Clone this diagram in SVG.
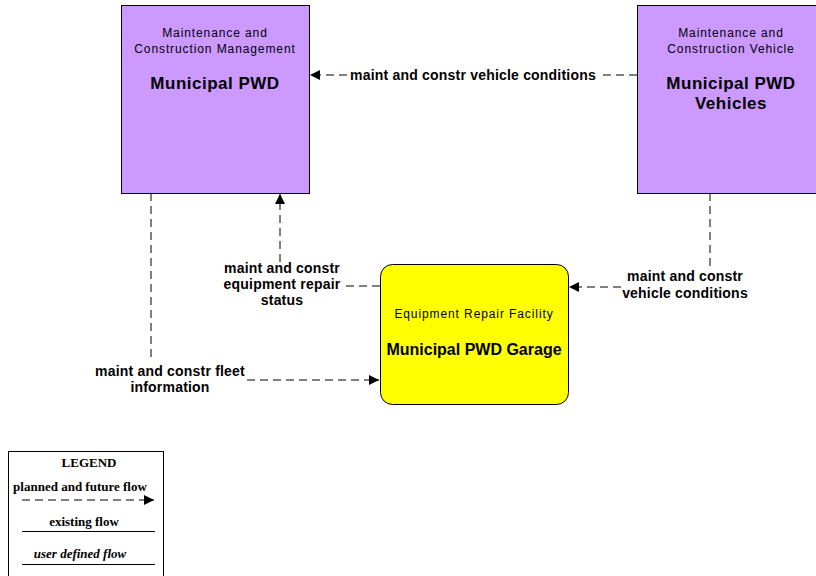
<svg xmlns="http://www.w3.org/2000/svg" width="816" height="576" viewBox="0 0 816 576">
<defs>
<marker id="ah" viewBox="0 0 10 10" refX="10" refY="5" markerWidth="10" markerHeight="10" markerUnits="userSpaceOnUse" orient="auto">
<path d="M0,0 L10,5 L0,10 Z" fill="#000"/>
</marker>
</defs>
<style>
.box{fill:#CC99FF;stroke:#000;stroke-width:1}
.yel{fill:#FFFF00;stroke:#000;stroke-width:1}
.sub{font-family:"Liberation Sans",Arial,sans-serif;font-size:12px;letter-spacing:0.9px;fill:#000;text-anchor:middle}
.ttl{font-family:"Liberation Sans",Arial,sans-serif;font-size:17px;letter-spacing:0.5px;font-weight:bold;fill:#000;text-anchor:middle}
.lbl{font-family:"Liberation Sans",Arial,sans-serif;font-size:14px;letter-spacing:0.2px;font-weight:bold;fill:#000;text-anchor:middle}
.flow{fill:none;stroke:#000;stroke-width:1;stroke-dasharray:8,5}
.lg{font-family:"Liberation Serif","Times New Roman",serif;font-size:13px;font-weight:bold;fill:#000;text-anchor:middle}
</style>
<rect width="816" height="576" fill="#fff"/>
<g id="connectors">
<line class="flow" x1="637" y1="75" x2="598" y2="75"/>
<line class="flow" x1="347" y1="75" x2="310" y2="75" marker-end="url(#ah)"/>
<text class="lbl" x="473" y="80">maint and constr vehicle conditions</text>
<polyline class="flow" points="380,286 342,286"/>
<line class="flow" x1="280" y1="262" x2="280" y2="194" marker-end="url(#ah)"/>
<text class="lbl" x="282" y="273">maint and constr</text>
<text class="lbl" x="282" y="289">equipment repair</text>
<text class="lbl" x="282" y="305">status</text>
<line class="flow" x1="151" y1="193" x2="151" y2="362"/>
<line class="flow" x1="247" y1="380" x2="379" y2="380" marker-end="url(#ah)"/>
<text class="lbl" x="170" y="376">maint and constr fleet</text>
<text class="lbl" x="170" y="392">information</text>
<line class="flow" x1="710" y1="193" x2="710" y2="266"/>
<line class="flow" x1="621" y1="287" x2="569" y2="287" marker-end="url(#ah)"/>
<text class="lbl" x="685" y="281">maint and constr</text>
<text class="lbl" x="685" y="298">vehicle conditions</text>
</g>
<g id="node-municipal-pwd">
<rect class="box" x="121.5" y="5.5" width="188" height="188"/>
<text class="sub" x="215" y="37">Maintenance and</text>
<text class="sub" x="215" y="53">Construction Management</text>
<text class="ttl" x="215" y="89">Municipal PWD</text>
</g>
<g id="node-municipal-pwd-vehicles">
<rect class="box" x="637.5" y="5.5" width="188" height="188"/>
<text class="sub" x="731" y="37">Maintenance and</text>
<text class="sub" x="731" y="53">Construction Vehicle</text>
<text class="ttl" x="731" y="89">Municipal PWD</text>
<text class="ttl" x="731" y="109">Vehicles</text>
</g>
<g id="node-municipal-pwd-garage">
<rect class="yel" x="380.5" y="264.5" width="188" height="140" rx="12" ry="12"/>
<text class="sub" x="474" y="318">Equipment Repair Facility</text>
<text class="ttl" x="474" y="355" style="font-size:16px;letter-spacing:0">Municipal PWD Garage</text>
</g>
<g id="legend">
<rect x="8.5" y="451.5" width="155" height="130" fill="#fff" stroke="#000" stroke-width="1"/>
<text class="lg" x="89" y="467">LEGEND</text>
<text class="lg" x="80" y="491">planned and future flow</text>
<line class="flow" x1="22" y1="500" x2="154" y2="500" stroke-dasharray="5,4" marker-end="url(#ah)"/>
<text class="lg" x="84" y="526">existing flow</text>
<line x1="22" y1="531.5" x2="155" y2="531.5" stroke="#000" stroke-width="1"/>
<text class="lg" x="80" y="558" font-style="italic">user defined flow</text>
<line x1="22" y1="564.5" x2="155" y2="564.5" stroke="#000" stroke-width="1"/>
</g>
</svg>
